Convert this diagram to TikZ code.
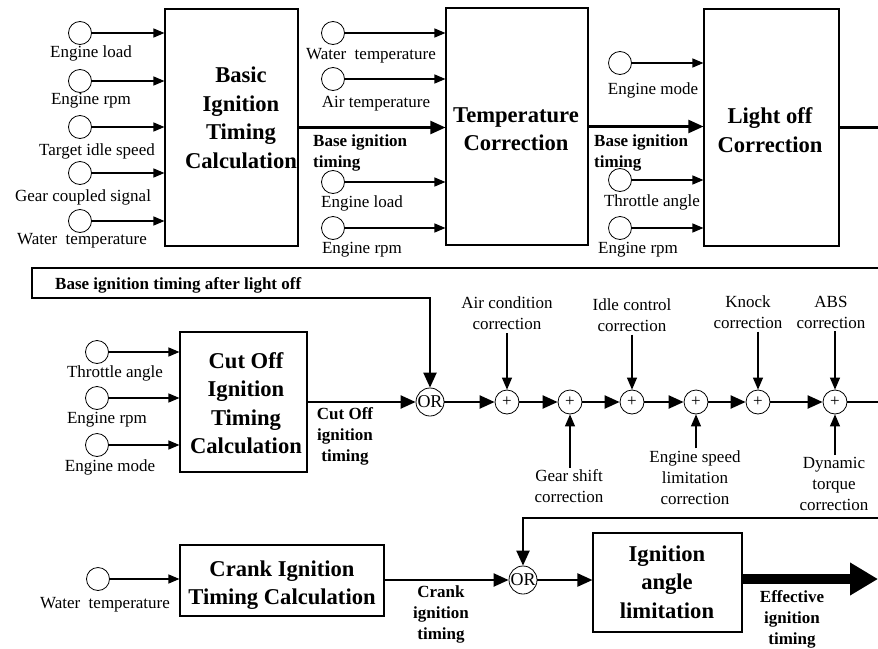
\documentclass[tikz,border=0pt]{standalone}
\usepackage{fontspec}
\setmainfont{Liberation Serif}
\usetikzlibrary{arrows.meta}
\begin{document}
\begin{tikzpicture}[x=1pt,y=-1pt,
  block/.style={draw, line width=1.1pt, inner sep=0pt},
  title/.style={font=\fontsize{22.6}{28.5}\selectfont\bfseries, align=center, inner sep=0pt},
  lbl/.style={font=\fontsize{17}{21}\selectfont, align=center, inner sep=0pt},
  blbl/.style={font=\fontsize{17}{21}\selectfont\bfseries, align=center, inner sep=0pt},
  src/.style={circle, draw, line width=0.8pt, minimum size=23pt, inner sep=0pt},
  sum/.style={circle, draw, line width=0.8pt, minimum size=24pt, inner sep=0pt, font=\fontsize{17}{17}\selectfont},
  ornode/.style={circle, draw, line width=0.8pt, minimum size=28pt, inner sep=0pt, font=\fontsize{18}{18}\selectfont},
  inarrow/.style={line width=1.2pt, -{Triangle[length=11pt,width=9pt]}},
  corr/.style={line width=1.2pt, -{Triangle[length=12pt,width=10pt]}},
  flow/.style={line width=2.2pt, -{Triangle[length=15pt,width=13pt]}},
  flowline/.style={line width=2.2pt},
  big/.style={line width=10pt, -{Triangle[length=28pt,width=31pt]}},
]
\fill[white] (0,0) rectangle (878,648);
\useasboundingbox (0,0) rectangle (878,648);

% ---------- basic ignition timing ----------
\node[block, minimum width=133pt, minimum height=237pt] (basic) at (231.5,127.5) {};
\node[title] (basicT) at (241,118) {Basic\\Ignition\\Timing\\Calculation};
\node[src] (bL) at (80,33) {};  \node[lbl] (bLt) at (91,53) {Engine load};
\node[src] (bR) at (80,81) {};  \node[lbl] (bRt) at (91,101) {Engine rpm};
\node[src] (bI) at (80,127) {}; \node[lbl] (bIt) at (97,151) {Target idle speed};
\node[src] (bG) at (80,173) {}; \node[lbl] (bGt) at (83,197) {Gear coupled signal};
\node[src] (bW) at (80,221) {}; \node[lbl] (bWt) at (82,241) {Water\ \ temperature};
\foreach \s in {bL,bR,bI,bG,bW}
  \draw[inarrow] (\s.east) -- (\s.east -| basic.west);

% ---------- temperature correction ----------
\node[block, minimum width=142pt, minimum height=237pt] (temp) at (517,126.5) {};
\node[title] (tempT) at (516,129) {Temperature\\Correction};
\node[src] (tW) at (333,33) {};  \node[lbl] (tWt) at (371,56) {Water\ \ temperature};
\node[src] (tA) at (333,79) {};  \node[lbl] (tAt) at (376,104) {Air temperature};
\node[src] (tL) at (333,182) {}; \node[lbl] (tLt) at (362,203) {Engine load};
\node[src] (tR) at (333,228) {}; \node[lbl] (tRt) at (362,250) {Engine rpm};
\foreach \s in {tW,tA,tL,tR}
  \draw[inarrow] (\s.east) -- (\s.east -| temp.west);
\node[blbl, align=left, anchor=west] (baseA) at (313,153) {Base ignition\\timing};

% ---------- light off correction ----------
\node[block, minimum width=135pt, minimum height=237pt] (light) at (771.5,127.5) {};
\node[title] (lightT) at (770,130) {Light off\\Correction};
\node[src] (lM) at (620,63) {};  \node[lbl] (lMt) at (653,90) {Engine mode};
\node[src] (lT) at (620,180) {}; \node[lbl] (lTt) at (652,202) {Throttle angle};
\node[src] (lR) at (620,228) {}; \node[lbl] (lRt) at (638,250) {Engine rpm};
\foreach \s in {lM,lT,lR}
  \draw[inarrow] (\s.east) -- (\s.east -| light.west);
\node[blbl, align=left, anchor=west] (baseB) at (594,153) {Base ignition\\timing};

\draw[flow] (basic.east) -- (basic.east -| temp.west);
\draw[flow] (temp.east) -- (temp.east -| light.west);

% ---------- cut off ignition timing ----------
\node[block, minimum width=127pt, minimum height=140pt] (cut) at (243.5,402) {};
\node[title] (cutT) at (246,403) {Cut Off\\Ignition\\Timing\\Calculation};
\node[src] (cT) at (97,352) {}; \node[lbl] (cTt) at (115,373) {Throttle angle};
\node[src] (cR) at (97,398) {}; \node[lbl] (cRt) at (107,420) {Engine rpm};
\node[src] (cM) at (97,445) {}; \node[lbl] (cMt) at (110,467) {Engine mode};
\foreach \s in {cT,cR,cM}
  \draw[inarrow] (\s.east) -- (\s.east -| cut.west);
\node[blbl] (cutL) at (345,436) {Cut Off\\ignition\\timing};

% ---------- correction chain ----------
\node[ornode] (or1) at (430,402) {OR};
\node[sum] (p1) at (507,402) {+};
\node[sum] (p2) at (570,402) {+};
\node[sum] (p3) at (632,402) {+};
\node[sum] (p4) at (696,402) {+};
\node[sum] (p5) at (758,402) {+};
\node[sum] (p6) at (835,402) {+};

\coordinate (rt1) at (878,127.5);
\coordinate (rt2) at (878,268);
\coordinate (lt1) at (32,268);
\coordinate (lt2) at (32,298);
\draw[flowline] (light.east) -- (rt1);
\draw[flow] (rt2) -- (lt1) -- (lt2) -- (lt2 -| or1) -- (or1.north);
\node[blbl, anchor=west] (afterL) at (55,285) {Base ignition timing after light off};

\draw[flow] (cut.east) -- (or1.west);
\draw[flow] (or1.east) -- (p1.west);
\draw[flow] (p1.east) -- (p2.west);
\draw[flow] (p2.east) -- (p3.west);
\draw[flow] (p3.east) -- (p4.west);
\draw[flow] (p4.east) -- (p5.west);
\draw[flow] (p5.east) -- (p6.west);

\node[lbl] (acT) at (507,313.5) {Air condition\\correction};
\node[lbl] (icT) at (632,315) {Idle control\\correction};
\node[lbl] (knT) at (748,312) {Knock\\correction};
\node[lbl] (abT) at (831,312) {ABS\\correction};
\node[lbl] (gsT) at (569,486.5) {Gear shift\\correction};
\node[lbl] (esT) at (695,477.5) {Engine speed\\limitation\\correction};
\node[lbl] (dtT) at (834,484) {Dynamic\\torque\\correction};

\draw[corr] ([yshift=-3pt]acT.south -| p1) -- (p1.north);
\draw[corr] ([yshift=-3pt]icT.south -| p3) -- (p3.north);
\draw[corr] ([yshift=-3pt]knT.south -| p5) -- (p5.north);
\draw[corr] ([yshift=-3pt]abT.south -| p6) -- (p6.north);
\draw[corr] ([yshift=2pt]gsT.north -| p2) -- (p2.south);
\draw[corr] ([yshift=2pt]esT.north -| p4) -- (p4.south);
\draw[corr] ([yshift=2pt]dtT.north -| p6) -- (p6.south);

% ---------- crank and limitation ----------
\node[block, minimum width=204pt, minimum height=71pt] (crank) at (282,580.5) {};
\node[title] (crankT) at (282,585) {Crank Ignition\\Timing Calculation};
\node[src] (kW) at (98,579) {}; \node[lbl] (kWt) at (105,605) {Water\ \ temperature};
\draw[inarrow] (kW.east) -- (kW.east -| crank.west);
\node[blbl] (crankL) at (441,614) {Crank\\ignition\\timing};

\node[ornode] (or2) at (523,580) {OR};
\node[block, minimum width=149pt, minimum height=99pt] (ign) at (667.5,582.5) {};
\node[title] (ignT) at (667,582) {Ignition\\angle\\limitation};

\coordinate (rm1) at (878,402);
\coordinate (rm2) at (878,518);
\coordinate (lm) at (523,518);
\draw[flowline] (p6.east) -- (rm1);
\draw[flow] (rm2) -- (lm) -- (or2.north);

\draw[flow] (crank.east |- or2) -- (or2.west);
\draw[flow] (or2.east) -- (or2.east -| ign.west);
\coordinate (outR) at (878,579);
\draw[big] (ign.east |- outR) -- (outR);
\node[blbl] (effL) at (792,619) {Effective\\ignition\\timing};
\end{tikzpicture}
\end{document}
